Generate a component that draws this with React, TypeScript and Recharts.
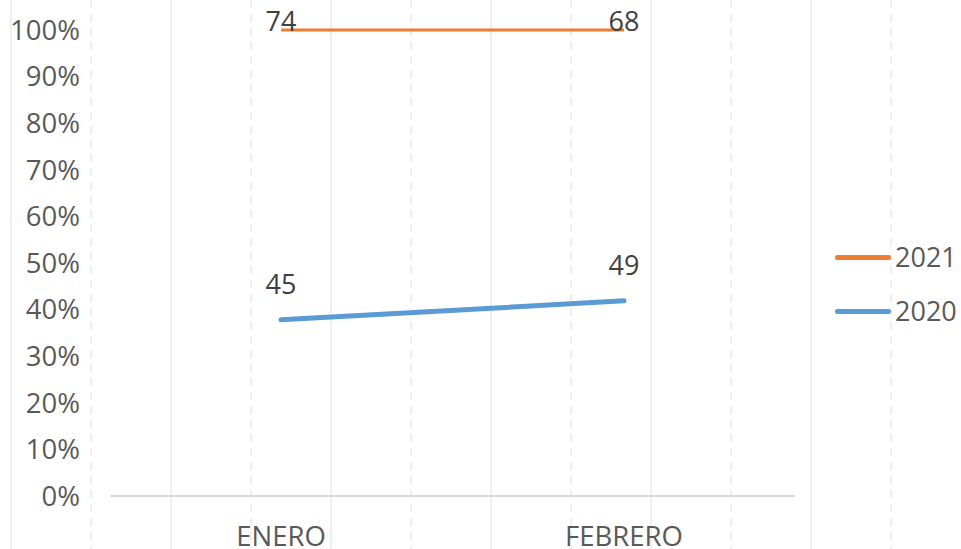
import { AreaChart, Area, XAxis, YAxis, Legend, LabelList } from 'recharts';

const MONTHS = ['ENERO', 'FEBRERO'];
const VALUES_2020 = [45, 49];
const VALUES_2021 = [74, 68];
const Y_TICKS = [0, 0.1, 0.2, 0.3, 0.4, 0.5, 0.6, 0.7, 0.8, 0.9, 1];

const W = 961;
const H = 549;
const FONT = '"Open Sans", sans-serif';

const data = MONTHS.map((m, i) => ({ month: m, y2020: VALUES_2020[i], y2021: VALUES_2021[i] }));

const SERIES = [
  { key: 'y2021', name: '2021', color: '#ED7D31', values: VALUES_2021 },
  { key: 'y2020', name: '2020', color: '#5B9BD5', values: VALUES_2020 },
];

// sheet gridlines behind the chart (solid / dashed alternating)
function SheetGrid() {
  const xs = [];
  for (let x = 11; x < W; x += 80) xs.push(x);
  return (
    <svg width={W} height={H} style={{ position: 'absolute', left: 0, top: 0 }}>
      {xs.map((x, i) => (
        <line
          key={x}
          x1={x}
          x2={x}
          y1={0}
          y2={H}
          stroke="#efefef"
          strokeWidth={2}
          strokeDasharray={i % 2 === 1 ? '8 6' : undefined}
        />
      ))}
    </svg>
  );
}

function LegendBox() {
  return (
    <div style={{ fontFamily: FONT, fontSize: 27, color: '#595959' }}>
      {SERIES.map((s, i) => (
        <div key={s.key} style={{ position: 'absolute', left: 0, top: i * 54, height: 30, display: 'flex', alignItems: 'center' }}>
          <div style={{ marginLeft: 40, width: 56, height: 5, borderRadius: 3, background: s.color }} />
          <span style={{ marginLeft: 4, lineHeight: '30px' }}>{s.name}</span>
        </div>
      ))}
    </div>
  );
}

function makeLabel(values: number[], dy: number) {
  return (p: any) => {
    const v = values[p.index];
    if (v == null) return null;
    return (
      <text x={p.x} y={p.y + dy} textAnchor="middle" fontFamily={FONT} fontSize={27} fill="#404040">
        {v}
      </text>
    );
  };
}

export default function App() {
  return (
    <div style={{ position: 'absolute', left: 0, top: 0, width: W, height: H, background: '#fff' }}>
      <SheetGrid />
      <div style={{ position: 'absolute', left: 0, top: 0 }}>
        <AreaChart width={W} height={H} data={data} stackOffset="expand" margin={{ top: 30, right: 0, bottom: 0, left: 0 }}>
          <XAxis
            dataKey="month"
            padding={{ left: 171, right: 171 }}
            height={53}
            axisLine={{ stroke: '#d9d9d9', strokeWidth: 2 }}
            tickLine={false}
            tickSize={0}
            tickMargin={30}
            tick={{ fontFamily: FONT, fontSize: 27.5, fill: '#595959' }}
          />
          <YAxis
            width={110}
            domain={[0, 1]}
            ticks={Y_TICKS}
            tickFormatter={(v: number) => `${Math.round(v * 100)}%`}
            axisLine={false}
            tickLine={false}
            tickSize={0}
            tickMargin={30}
            tick={{ fontFamily: FONT, fontSize: 27.5, fill: '#595959' }}
          />
          <Legend
            layout="vertical"
            align="right"
            verticalAlign="middle"
            width={166}
            height={90}
            wrapperStyle={{ top: 242, right: 0 }}
            content={() => <LegendBox />}
          />
          <Area
            type="linear"
            dataKey="y2020"
            name="2020"
            stackId="a"
            stroke="#5B9BD5"
            strokeWidth={5}
            strokeLinecap="round"
            fill="none"
            fillOpacity={0}
            dot={false}
            activeDot={false}
            isAnimationActive={false}
          >
            <LabelList content={makeLabel(VALUES_2020, -26)} />
          </Area>
          <Area
            type="linear"
            dataKey="y2021"
            name="2021"
            stackId="a"
            stroke="#ED7D31"
            strokeWidth={3}
            fill="none"
            fillOpacity={0}
            dot={false}
            activeDot={false}
            isAnimationActive={false}
          >
            <LabelList content={makeLabel(VALUES_2021, 1)} />
          </Area>
        </AreaChart>
      </div>
    </div>
  );
}
